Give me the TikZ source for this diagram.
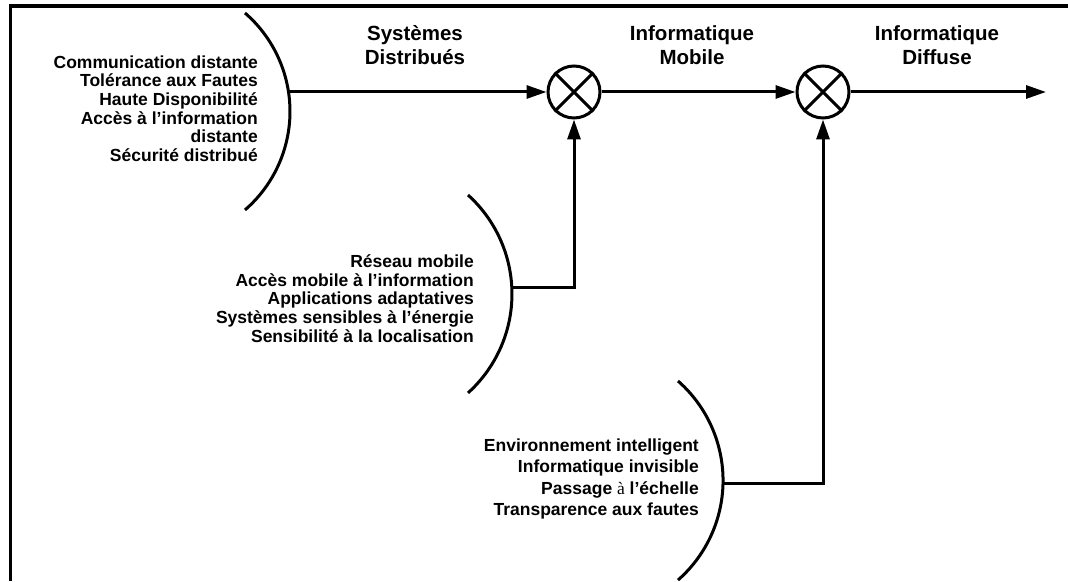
\documentclass[tikz,border=0pt]{standalone}
\usepackage{fontspec}
\setmainfont{Liberation Sans}
\newfontfamily\serifa{Liberation Serif}
\usetikzlibrary{arrows.meta}
\begin{document}
\begin{tikzpicture}[x=1pt,y=1pt,
 line/.style={line width=3pt},
 arr/.style={line width=3pt,-{Triangle[length=20pt,width=13pt]}},
 mult/.style={circle,draw,line width=3pt,minimum size=52pt,inner sep=0pt},
 item/.style={font=\fontsize{17.5}{18.7}\selectfont\bfseries,align=right,anchor=east,inner sep=0pt},
 title/.style={font=\fontsize{20.5}{24}\selectfont\bfseries,align=center,inner sep=0pt}]
\useasboundingbox (0,0) rectangle (1068,581);
% frame
\draw[line width=3.5pt] (10.5,0) -- (10.5,575) -- (1068,575);
% multipliers
\node[mult] (c1) at (574,489) {};
\node[mult] (c2) at (823,489) {};
\draw[line] (c1.45) -- (c1.225) (c1.135) -- (c1.315);
\draw[line] (c2.45) -- (c2.225) (c2.135) -- (c2.315);
% arcs
\draw[line] (245,568) arc[start angle=49.1, end angle=-49.1, radius=130.3pt];
\draw[line] (468,386) arc[start angle=47.9, end angle=-47.9, radius=133.4pt];
\draw[line] (678,200) arc[start angle=48.7, end angle=-48.7, radius=132.5pt];
\coordinate (a1) at (288.5,489);
\coordinate (a2) at (511.9,293);
\coordinate (a3) at (723,97);
\coordinate (out) at (1046,489);
% connectors
\draw[arr] (a1) -- (c1.west);
\draw[arr] (a2) -| (c1.south);
\draw[arr] (c1.east) -- (c2.west);
\draw[arr] (a3) -| (c2.south);
\draw[arr] (c2.east) -- (out);
% titles
\node[title] (t1) at (415,536) {Systèmes\\Distribués};
\node[title] (t2) at (692,536) {Informatique\\Mobile};
\node[title] (t3) at (937,536) {Informatique\\Diffuse};
% items
\node[item] (b1) at (258,472.5) {Communication distante\\Tolérance aux Fautes\\Haute Disponibilité\\Accès à l’information\\distante\\Sécurité distribué};
\node[item] (b2) at (474,282.5) {Réseau mobile\\Accès mobile à l’information\\Applications adaptatives\\Systèmes sensibles à l’énergie\\Sensibilité à la localisation};
\node[item,font=\fontsize{17.5}{21.3}\selectfont\bfseries] (b3) at (699,102) {Environnement intelligent\\Informatique invisible\\Passage {\serifa\mdseries à} l’échelle\\Transparence aux fautes};
\end{tikzpicture}
\end{document}
